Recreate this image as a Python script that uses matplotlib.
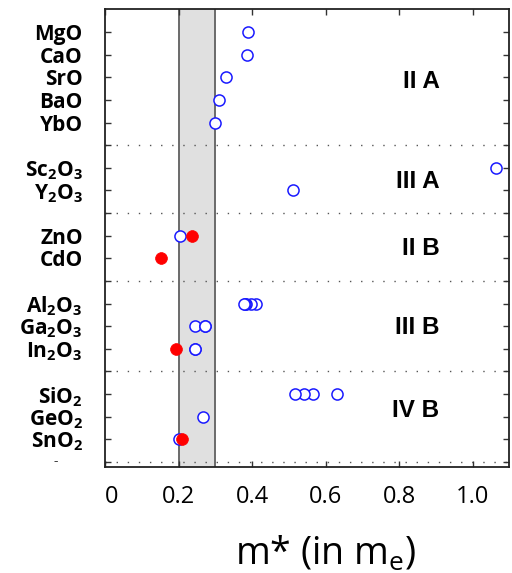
import matplotlib
matplotlib.use("Agg")
import matplotlib.pyplot as plt
from matplotlib.transforms import blended_transform_factory

plt.rcParams['mathtext.default'] = 'regular'

# ---- data ----
row_names = ["MgO", "CaO", "SrO", "BaO", "YbO", "",
             "Sc2O3", "Y2O3", "",
             "ZnO", "CdO", "",
             "Al2O3", "Ga2O3", "In2O3", "",
             "SiO2", "GeO2", "SnO2", ""]
row_labels = ["MgO", "CaO", "SrO", "BaO", "YbO", "",
              "Sc$_2$O$_3$", "Y$_2$O$_3$", "",
              "ZnO", "CdO", "",
              "Al$_2$O$_3$", "Ga$_2$O$_3$", "In$_2$O$_3$", "",
              "SiO$_2$", "GeO$_2$", "SnO$_2$", ""]
separator_rows = [5, 8, 11, 15, 19]

group_names = ["II A", "III A", "II B", "III B", "IV B"]
group_rows = [2.2, 6.6, 9.55, 13.05, 16.75]

blue_compounds = ["MgO", "CaO", "SrO", "BaO", "YbO", "Sc2O3", "Y2O3", "ZnO",
                  "Al2O3", "Al2O3", "Al2O3", "Al2O3", "Al2O3",
                  "Ga2O3", "Ga2O3", "Ga2O3", "In2O3", "In2O3",
                  "SiO2", "SiO2", "SiO2", "SiO2", "GeO2", "SnO2"]
blue_mass = [0.39, 0.387, 0.328, 0.309, 0.298, 1.063, 0.511, 0.204,
             0.41, 0.396, 0.383, 0.381, 0.379,
             0.245, 0.271, 0.273, 0.244, 0.246,
             0.632, 0.565, 0.540, 0.517, 0.266, 0.202]

red_compounds = ["ZnO", "CdO", "In2O3", "SnO2"]
red_mass = [0.236, 0.152, 0.193, 0.21]

band = (0.2, 0.3)
x_ticks = [0, 0.2, 0.4, 0.6, 0.8, 1.0]
x_ticklabels = ["0", "0.2", "0.4", "0.6", "0.8", "1.0"]

# ---- figure ----
fig = plt.figure(figsize=(5.12, 5.73), dpi=100)
ax = fig.add_axes([0.205, 0.185, 0.79, 0.799])

ax.axvspan(band[0], band[1], facecolor="#e0e0e0", edgecolor="none", zorder=0)
for b in band:
    ax.axvline(b, color="#6a6a6a", lw=1.4, zorder=1)

for r in separator_rows:
    ax.axhline(r, color="#555555", lw=1.0, ls=(0, (1, 7)), zorder=1)

blue_y = [row_names.index(c) for c in blue_compounds]
red_y = [row_names.index(c) for c in red_compounds]
ax.plot(blue_mass, blue_y, ls="none", marker="o", ms=8, mfc="white",
        mec="#1a1aff", mew=1.1, zorder=3)
ax.plot(red_mass, red_y, ls="none", marker="o", ms=8.5, mfc="#ff0000",
        mec="#ff0000", mew=0.5, zorder=4)

for g, r in zip(group_names, group_rows):
    ax.text(0.91, r, g, ha="right", va="center", fontsize=17.5,
            fontweight="bold", family="Liberation Sans")

ax.set_xlim(0, 1.1)
ax.set_ylim(19.23, -1.02)
ax.set_yticks(range(len(row_labels)))
ax.set_yticklabels(row_labels, fontsize=15, fontweight="bold", family="Open Sans")
ax.set_xticks(x_ticks)
ax.set_xticklabels(x_ticklabels, fontsize=17, family="Open Sans")
ax.get_xticklabels()[0].set_ha("left")

ax.tick_params(axis="both", direction="in", length=4.5, width=1,
               top=True, right=True, color="#333333")
ax.tick_params(axis="y", pad=16)
ax.tick_params(axis="x", pad=13)
for s in ax.spines.values():
    s.set_linewidth(1.3)
    s.set_color("#222222")

ax.set_xlabel("m* (in m$_e$)", fontsize=27, family="Open Sans", labelpad=18)
ax.xaxis.label.set_x(0.545)

tr = blended_transform_factory(fig.transFigure, ax.transData)
ax.text(56 / 512, 19, "-", transform=tr, ha="center", va="center",
        fontsize=10, color="#444444", family="Open Sans")

fig.savefig("out.png", dpi=100)
